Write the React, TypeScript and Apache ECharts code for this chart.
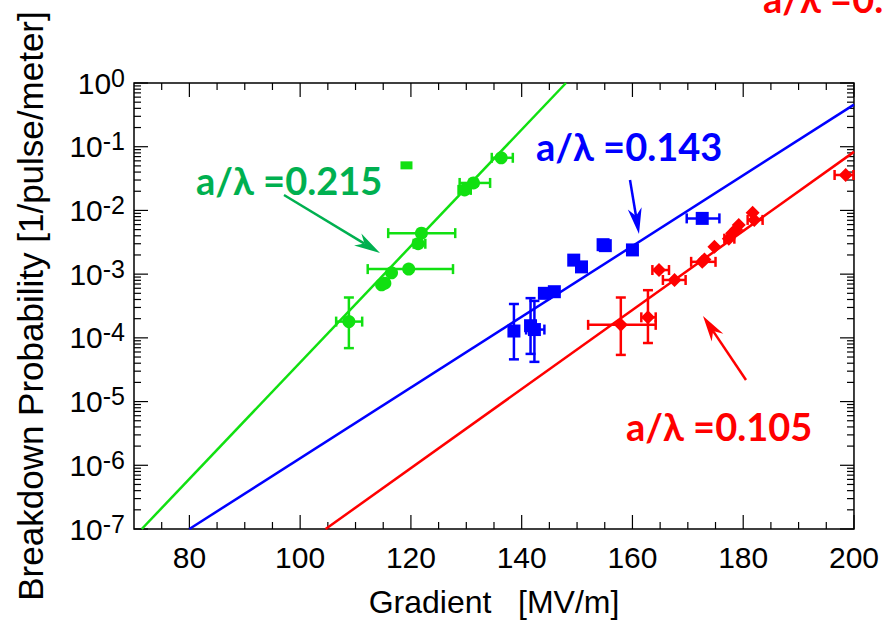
import React, { useEffect, useRef } from "react";
import * as echarts from "echarts";

// ---------- axis ticks (values) ----------
const xMajorTicks = [80, 100, 120, 140, 160, 180, 200];
const xMinorTicks = [75, 85, 90, 95, 105, 110, 115, 125, 130, 135, 145, 150, 155, 165, 170, 175, 185, 190, 195];
const yDecades = [1e-7, 1e-6, 1e-5, 1e-4, 1e-3, 1e-2, 1e-1, 1];
const yMinorMultipliers = [2, 3, 4, 5, 6, 7, 8, 9];

// ---------- a/λ = 0.215 (green) ----------
const greenX = [108.8, 114.7, 115.3, 116.5, 119.6, 121.3, 121.9, 129.7, 131.3, 136.3];
const greenY = [1.8e-4, 6.8e-4, 7.2e-4, 1.05e-3, 1.2e-3, 3.0e-3, 4.4e-3, 2.1e-2, 2.7e-2, 6.7e-2];
const greenXLo = [106.5, null, null, null, 112.2, 120.5, 115.9, 128.6, 128.8, 134.6];
const greenXHi = [111.2, null, null, null, 127.6, 122.6, 128.0, 130.8, 134.3, 138.4];
const greenYLo = [6.9e-5, null, null, null, null, null, null, null, null, null];
const greenYHi = [4.3e-4, null, null, null, null, null, null, null, null, null];
const greenOutlierX = [119.2];
const greenOutlierY = [5.1e-2];
const greenFit = [[71.4, 1e-7], [148.0, 1]];

// ---------- a/λ = 0.143 (blue) ----------
const blueX = [138.6, 141.6, 142.3, 144.1, 145.9, 149.4, 150.8, 154.7, 155.1, 160.0, 172.6];
const blueY = [1.28e-4, 1.55e-4, 1.35e-4, 5.0e-4, 5.3e-4, 1.66e-3, 1.3e-3, 2.9e-3, 2.8e-3, 2.4e-3, 7.5e-3];
const blueXLo = [null, null, 140.8, null, null, null, null, null, null, null, 169.8];
const blueXHi = [null, null, 144.1, null, null, null, null, null, null, null, 175.7];
const blueYLo = [4.6e-5, 5.6e-5, 4.2e-5, null, null, null, null, null, null, null, null];
const blueYHi = [3.4e-4, 4.2e-4, 3.8e-4, null, null, null, null, null, null, null, null];
const blueFit = [[80.0, 1e-7], [200, 0.458]];

// ---------- a/λ = 0.105 (red) ----------
const redX = [157.9, 162.8, 164.8, 167.6, 172.6, 173.0, 174.8, 177.4, 178.0, 178.7, 179.2, 181.7, 182.0, 198.5];
const redY = [1.6e-4, 2.1e-4, 1.16e-3, 8.1e-4, 1.56e-3, 1.7e-3, 2.7e-3, 3.6e-3, 4.4e-3, 5.0e-3, 5.9e-3, 9.2e-3, 7.1e-3, 3.6e-2];
const redXLo = [152.0, 161.6, 163.6, 165.5, 170.6, null, null, 176.6, null, null, null, null, 180.8, 196.5];
const redXHi = [164.2, 164.2, 166.6, 169.6, 175.0, null, null, 178.4, null, null, null, null, 183.5, 199.9];
const redYLo = [5.4e-5, 8.3e-5, null, null, null, null, null, null, null, null, null, null, null, null];
const redYHi = [4.3e-4, 5.6e-4, null, null, null, null, null, null, null, null, null, null, null, null];
const redFit = [[104.6, 1e-7], [200, 0.083]];

const GREEN = "#11e011";
const GREEN_TXT = "#00b050";
const BLUE = "#0000ff";
const RED = "#ff0000";
const FONT = "'Liberation Sans', Arial, sans-serif";
const ANN_FONT = "bold 38px Lato, 'Open Sans', sans-serif";

function errData(xs: number[], ys: number[], xlo: any[], xhi: any[], ylo: any[], yhi: any[]) {
  return xs.map((x, i) => [x, ys[i], xlo[i] ?? x, xhi[i] ?? x, ylo[i] ?? ys[i], yhi[i] ?? ys[i]]);
}

function errRender(color: string) {
  return (params: any, api: any) => {
    const x = api.value(0), y = api.value(1);
    const xlo = api.value(2), xhi = api.value(3), ylo = api.value(4), yhi = api.value(5);
    const style = { stroke: color, lineWidth: 2.5 };
    const cap = 5;
    const children: any[] = [];
    const ln = (x1: number, y1: number, x2: number, y2: number) =>
      children.push({ type: "line", shape: { x1, y1, x2, y2 }, style });
    if (xhi > xlo) {
      const a = api.coord([xlo, y]), b = api.coord([xhi, y]);
      ln(a[0], a[1], b[0], b[1]);
      ln(a[0], a[1] - cap, a[0], a[1] + cap);
      ln(b[0], b[1] - cap, b[0], b[1] + cap);
    }
    if (yhi > ylo) {
      const a = api.coord([x, ylo]), b = api.coord([x, yhi]);
      ln(a[0], a[1], b[0], b[1]);
      ln(a[0] - cap, a[1], a[0] + cap, a[1]);
      ln(b[0] - cap, b[1], b[0] + cap, b[1]);
    }
    return { type: "group", children };
  };
}

function tickRender(params: any, api: any) {
  const children: any[] = [];
  const style = { stroke: "#000", lineWidth: 1.2 };
  const ln = (x1: number, y1: number, x2: number, y2: number) =>
    children.push({ type: "line", shape: { x1, y1, x2, y2 }, style });
  const yMin = 1e-7, yMax = 1, xMin = 70, xMax = 200;
  const xt = (v: number, len: number) => {
    const b = api.coord([v, yMin]);
    const t = api.coord([v, yMax]);
    ln(b[0], b[1], b[0], b[1] - len);
    ln(t[0], t[1], t[0], t[1] + len);
  };
  const yt = (v: number, len: number) => {
    const l = api.coord([xMin, v]);
    const r = api.coord([xMax, v]);
    ln(l[0], l[1], l[0] + len, l[1]);
    ln(r[0], r[1], r[0] - len, r[1]);
  };
  xMajorTicks.forEach((v) => xt(v, 14));
  xMinorTicks.forEach((v) => xt(v, 7));
  yDecades.forEach((d, i) => {
    yt(d, 14);
    if (i < yDecades.length - 1) yMinorMultipliers.forEach((m) => yt(d * m, 7));
  });
  return { type: "group", children };
}

function arrow(x1: number, y1: number, x2: number, y2: number, color: string, headLen = 26, headW = 7) {
  const dx = x2 - x1, dy = y2 - y1;
  const L = Math.sqrt(dx * dx + dy * dy);
  const ux = dx / L, uy = dy / L;
  const px = -uy, py = ux;
  const bx = x2 - ux * headLen, by = y2 - uy * headLen;
  const nx = x2 - ux * headLen * 0.7, ny = y2 - uy * headLen * 0.7;
  return [
    { type: "line", shape: { x1, y1, x2: nx, y2: ny }, style: { stroke: color, lineWidth: 2.5 }, silent: true },
    {
      type: "polygon",
      shape: { points: [[x2, y2], [bx + px * headW, by + py * headW], [nx, ny], [bx - px * headW, by - py * headW]] },
      style: { fill: color },
      silent: true,
    },
  ];
}

export default function App() {
  const ref = useRef<HTMLDivElement>(null);
  useEffect(() => {
    document.body.style.margin = "0";
    const chart = echarts.init(ref.current!, null, { renderer: "svg" });
    const option: any = {
      animation: false,
      backgroundColor: "#fff",
      grid: { left: 134, right: 27, top: 83, bottom: 99, show: true, borderColor: "#000", borderWidth: 1.5, backgroundColor: "transparent" },
      xAxis: {
        type: "value",
        min: 70,
        max: 200,
        interval: 10,
        name: "Gradient   [MV/m]",
        nameLocation: "middle",
        nameGap: 57,
        nameTextStyle: { fontSize: 32, fontFamily: FONT, color: "#000" },
        axisLine: { show: false },
        axisTick: { show: false },
        splitLine: { show: false },
        axisLabel: {
          margin: 13,
          fontSize: 30,
          fontFamily: FONT,
          color: "#000",
          formatter: (v: number) => (v % 20 === 0 ? String(v) : ""),
        },
      },
      yAxis: {
        type: "log",
        logBase: 10,
        min: 1e-7,
        max: 1,
        splitNumber: 7,
        name: "Breakdown Probability [1/pulse/meter]",
        nameLocation: "middle",
        nameGap: 86,
        nameTextStyle: { fontSize: 35, fontFamily: FONT, color: "#000" },
        axisLine: { show: false },
        axisTick: { show: false },
        splitLine: { show: false },
        axisLabel: {
          margin: 9,
          formatter: (v: number) => `{b|10}{s|${Math.round(Math.log10(v))}}`,
          rich: {
            b: { fontSize: 30, fontFamily: FONT, color: "#000", lineHeight: 36 },
            s: { fontSize: 25, fontFamily: FONT, color: "#000", lineHeight: 20, verticalAlign: "top" },
          },
        },
      },
      series: [
        { type: "custom", renderItem: tickRender, data: [[100, 1e-3]], silent: true, z: 1 },
        { type: "line", data: greenFit, showSymbol: false, lineStyle: { color: GREEN, width: 2.5 }, silent: true, z: 2 },
        { type: "line", data: blueFit, showSymbol: false, lineStyle: { color: BLUE, width: 2.5 }, silent: true, z: 2 },
        { type: "line", data: redFit, showSymbol: false, lineStyle: { color: RED, width: 2.5 }, silent: true, z: 2 },
        {
          type: "custom",
          renderItem: errRender(GREEN),
          data: errData(greenX, greenY, greenXLo, greenXHi, greenYLo, greenYHi),
          encode: { x: 0, y: 1 },
          silent: true,
          z: 3,
        },
        {
          type: "custom",
          renderItem: errRender(BLUE),
          data: errData(blueX, blueY, blueXLo, blueXHi, blueYLo, blueYHi),
          encode: { x: 0, y: 1 },
          silent: true,
          z: 3,
        },
        {
          type: "custom",
          renderItem: errRender(RED),
          data: errData(redX, redY, redXLo, redXHi, redYLo, redYHi),
          encode: { x: 0, y: 1 },
          silent: true,
          z: 3,
        },
        {
          type: "scatter",
          data: greenX.map((x, i) => [x, greenY[i]]),
          symbol: "circle",
          symbolSize: 13,
          itemStyle: { color: GREEN, opacity: 1 },
          z: 4,
        },
        {
          type: "scatter",
          data: greenOutlierX.map((x, i) => [x, greenOutlierY[i]]),
          symbol: "rect",
          symbolSize: [12, 8],
          itemStyle: { color: GREEN, opacity: 1 },
          z: 4,
        },
        {
          type: "scatter",
          data: blueX.map((x, i) => [x, blueY[i]]),
          symbol: "rect",
          symbolSize: 13,
          itemStyle: { color: BLUE, opacity: 1 },
          z: 4,
        },
        {
          type: "scatter",
          data: redX.map((x, i) => [x, redY[i]]),
          symbol: "diamond",
          symbolSize: 14,
          itemStyle: { color: RED, opacity: 1 },
          z: 4,
        },
      ],
      graphic: [
        { type: "text", x: 196, y: 180, style: { text: "a/λ =0.215", font: ANN_FONT, fill: GREEN_TXT, verticalAlign: "middle" }, silent: true },
        { type: "text", x: 536, y: 146, style: { text: "a/λ =0.143", font: ANN_FONT, fill: BLUE, verticalAlign: "middle" }, silent: true },
        { type: "text", x: 626, y: 426, style: { text: "a/λ =0.105", font: ANN_FONT, fill: RED, verticalAlign: "middle" }, silent: true },
        { type: "text", x: 763, y: -2, style: { text: "a/λ =0.08", font: ANN_FONT, fill: RED, verticalAlign: "middle" }, silent: true },
        ...arrow(284, 195, 380, 253, GREEN_TXT),
        ...arrow(630, 180, 639, 234, BLUE),
        ...arrow(746, 380, 703, 316, RED),
      ],
    };
    chart.setOption(option);
    return () => chart.dispose();
  }, []);
  return <div ref={ref} style={{ width: 882, height: 628 }} />;
}
